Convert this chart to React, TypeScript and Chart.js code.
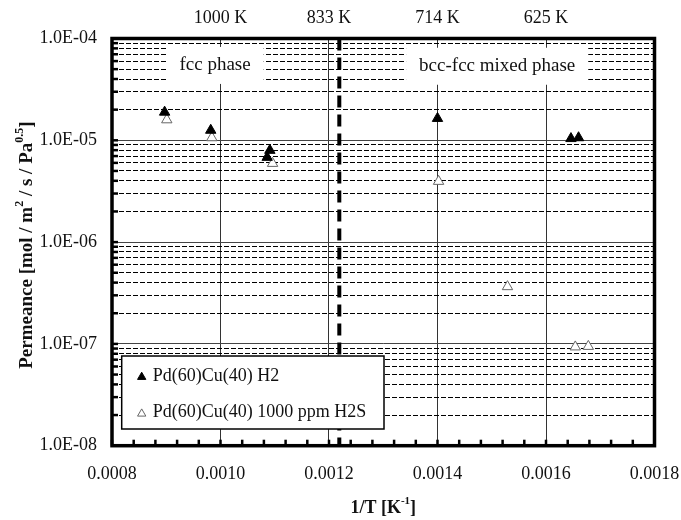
import React, { useEffect, useRef } from 'react';
import { Chart, registerables } from 'chart.js';

Chart.register(...registerables);

// ---- data ----
const h2X = [0.000897, 0.000982, 0.001091, 0.001086, 0.0014, 0.001646, 0.00166];
const h2Y = [1.89e-5, 1.255e-5, 7.97e-6, 6.8e-6, 1.64e-5, 1.04e-5, 1.06e-5];
const h2sX = [0.000901, 0.000984, 0.001096, 0.001402, 0.001529, 0.001654, 0.001678];
const h2sY = [1.59e-5, 1.06e-5, 5.93e-6, 3.95e-6, 3.65e-7, 9.34e-8, 9.45e-8];
const seriesLabels = ['Pd(60)Cu(40) H2', 'Pd(60)Cu(40) 1000 ppm H2S'];
const phaseBoundaryX = 0.001219;
const phaseLabels = ['fcc phase', 'bcc-fcc mixed phase'];
const phaseLabelX = [0.00099, 0.00151];
const phaseLabelY = [5.5e-5, 5.4e-5];

const xMin = 0.0008;
const xMax = 0.0018;
const xTickLabels = ['0.0008', '0.0010', '0.0012', '0.0014', '0.0016', '0.0018'];
const topTickLabels = ['', '1000 K', '833 K', '714 K', '625 K', ''];
const yMin = 1e-8;
const yMax = 1e-4;
const yTickLabels = ['1.0E-08', '1.0E-07', '1.0E-06', '1.0E-05', '1.0E-04'];

// tick value lists
const xAllTicks: number[] = [];
for (let i = 0; i <= 25; i++) xAllTicks.push(Number((xMin + i * 0.00004).toFixed(6)));
const xMajorTicks: number[] = [];
for (let i = 0; i <= 5; i++) xMajorTicks.push(Number((xMin + i * 0.0002).toFixed(6)));
const yAllTicks: number[] = [];
for (let e = -8; e <= -5; e++) for (let s = 1; s <= 9; s++) yAllTicks.push(Number((s * Math.pow(10, e)).toPrecision(3)));
yAllTicks.push(yMax);

const FONT = "'Liberation Serif', 'Times New Roman', serif";

type Part = { t: string; sup?: boolean };

function drawRich(ctx: CanvasRenderingContext2D, parts: Part[], cx: number, cy: number, size: number, bold: boolean) {
  const w = bold ? 'bold ' : '';
  const supSize = Math.round(size * 0.62);
  let total = 0;
  const widths = parts.map((p) => {
    ctx.font = `${w}${p.sup ? supSize : size}px ${FONT}`;
    const m = ctx.measureText(p.t).width;
    total += m;
    return m;
  });
  let x = cx - total / 2;
  ctx.textBaseline = 'middle';
  ctx.textAlign = 'left';
  parts.forEach((p, i) => {
    ctx.font = `${w}${p.sup ? supSize : size}px ${FONT}`;
    ctx.fillText(p.t, x, p.sup ? cy - size * 0.38 : cy);
    x += widths[i];
  });
}

function tri(ctx: CanvasRenderingContext2D, x: number, y: number, r: number) {
  ctx.beginPath();
  let rad = 0;
  ctx.moveTo(x + Math.sin(rad) * r, y - Math.cos(rad) * r);
  rad += (2 * Math.PI) / 3;
  ctx.lineTo(x + Math.sin(rad) * r, y - Math.cos(rad) * r);
  rad += (2 * Math.PI) / 3;
  ctx.lineTo(x + Math.sin(rad) * r, y - Math.cos(rad) * r);
  ctx.closePath();
}

const decorPlugin = {
  id: 'decor',
  beforeDatasetsDraw(chart: any) {
    const { ctx, chartArea: ca, scales } = chart;
    const xs = scales.x;
    const ys = scales.y;
    ctx.save();
    // phase label boxes
    ctx.font = `19px ${FONT}`;
    phaseLabels.forEach((t, i) => {
      const cx = xs.getPixelForValue(phaseLabelX[i]);
      const cy = ys.getPixelForValue(phaseLabelY[i]);
      const tw = ctx.measureText(t).width;
      ctx.fillStyle = '#fff';
      ctx.fillRect(cx - tw / 2 - 13, cy - 18, tw + 26, 37);
      ctx.fillStyle = '#111';
      ctx.textAlign = 'center';
      ctx.textBaseline = 'middle';
      ctx.fillText(t, cx, cy);
    });
    // inward ticks
    ctx.strokeStyle = '#000';
    ctx.lineWidth = 2.5;
    ys.ticks.forEach((t: any) => {
      const py = ys.getPixelForValue(t.value);
      ctx.beginPath();
      ctx.moveTo(ca.left, py);
      ctx.lineTo(ca.left + 6, py);
      ctx.stroke();
    });
    xs.ticks.forEach((t: any) => {
      const px = xs.getPixelForValue(t.value);
      ctx.beginPath();
      ctx.moveTo(px, ca.bottom);
      ctx.lineTo(px, ca.bottom - 6);
      ctx.stroke();
    });
    ctx.restore();
  },
  afterDatasetsDraw(chart: any) {
    const { ctx, chartArea: ca } = chart;
    ctx.save();
    // legend
    const lx = ca.left + 9.7;
    const ly = ca.bottom - 89.7;
    const lw = 262.3;
    const lh = 73;
    ctx.fillStyle = '#fff';
    ctx.fillRect(lx, ly, lw, lh);
    ctx.strokeStyle = '#000';
    ctx.lineWidth = 1.5;
    ctx.strokeRect(lx, ly, lw, lh);
    const rows = [ly + 20, ly + 56.7];
    const ds = chart.data.datasets;
    rows.forEach((ry, i) => {
      tri(ctx, lx + 20, ry + 1, 4.8);
      ctx.fillStyle = ds[i].backgroundColor;
      ctx.fill();
      ctx.strokeStyle = ds[i].borderColor;
      ctx.lineWidth = 1;
      ctx.stroke();
      ctx.fillStyle = '#111';
      ctx.font = `18px ${FONT}`;
      ctx.textAlign = 'left';
      ctx.textBaseline = 'middle';
      ctx.fillText(ds[i].label, lx + 31, ry);
    });
    // frame
    ctx.strokeStyle = '#000';
    ctx.lineWidth = 3.5;
    ctx.strokeRect(ca.left, ca.top, ca.right - ca.left, ca.bottom - ca.top);
    // axis titles
    ctx.fillStyle = '#111';
    drawRich(ctx, [{ t: '1/T [K' }, { t: '-1', sup: true }, { t: ']' }], (ca.left + ca.right) / 2, 508, 18, true);
    ctx.translate(27, (ca.top + ca.bottom) / 2 + 3);
    ctx.rotate(-Math.PI / 2);
    drawRich(
      ctx,
      [{ t: 'Permeance [mol / m' }, { t: '2', sup: true }, { t: ' / s / Pa' }, { t: '0.5', sup: true }, { t: ']' }],
      0,
      0,
      19,
      true
    );
    ctx.restore();
  },
};

const tickFont = { family: FONT, size: 18 };

const noPad = (s: any) => {
  s.paddingLeft = 0;
  s.paddingRight = 0;
  s.paddingTop = 0;
  s.paddingBottom = 0;
};

export default function App() {
  const ref = useRef<HTMLCanvasElement>(null);
  useEffect(() => {
    const canvas = ref.current!;
    const chart = new Chart(canvas, {
      type: 'scatter',
      data: {
        datasets: [
          {
            label: seriesLabels[0],
            data: h2X.map((x, i) => ({ x, y: h2Y[i] })),
            pointStyle: 'triangle',
            pointRadius: 6,
            backgroundColor: '#000',
            borderColor: '#000',
            borderWidth: 1,
          },
          {
            label: seriesLabels[1],
            data: h2sX.map((x, i) => ({ x, y: h2sY[i] })),
            pointStyle: 'triangle',
            pointRadius: 6,
            backgroundColor: '#fff',
            borderColor: '#666',
            borderWidth: 1,
          },
          {
            label: 'phase boundary',
            data: [
              { x: phaseBoundaryX, y: yMax },
              { x: phaseBoundaryX, y: yMin },
            ],
            showLine: true,
            pointRadius: 0,
            borderColor: '#000',
            borderWidth: 4,
            borderDash: [12, 7],
          },
        ],
      } as any,
      options: {
        responsive: false,
        animation: false,
        events: [],
        layout: { padding: { left: 0, right: 26.5, top: 0, bottom: 0 } },
        plugins: { legend: { display: false }, tooltip: { enabled: false } },
        scales: {
          x: {
            type: 'linear',
            position: 'bottom',
            min: xMin,
            max: xMax,
            afterBuildTicks: (s: any) => {
              s.ticks = xAllTicks.map((v) => ({ value: v }));
            },
            afterFit: (s: any) => {
              s.height = 74.3;
              noPad(s);
            },
            ticks: {
              autoSkip: false,
              maxRotation: 0,
              padding: 17.5,
              font: tickFont,
              color: '#111',
              callback: (_v: any, i: number) => (i % 5 === 0 ? xTickLabels[i / 5] : ''),
            },
            grid: {
              drawTicks: false,
              color: '#333',
              lineWidth: (c: any) => (c.index % 5 === 0 && c.index !== 0 && c.index !== 25 ? 1 : 0),
            },
            border: { display: false },
          },
          x2: {
            type: 'linear',
            position: 'top',
            min: xMin,
            max: xMax,
            afterBuildTicks: (s: any) => {
              s.ticks = xMajorTicks.map((v) => ({ value: v }));
            },
            afterFit: (s: any) => {
              s.height = 38.5;
              noPad(s);
            },
            ticks: {
              autoSkip: false,
              maxRotation: 0,
              padding: 9.2,
              font: tickFont,
              color: '#111',
              callback: (_v: any, i: number) => topTickLabels[i],
            },
            grid: { display: false, drawTicks: false },
            border: { display: false },
          },
          y: {
            type: 'logarithmic',
            position: 'left',
            min: yMin,
            max: yMax,
            afterBuildTicks: (s: any) => {
              s.ticks = yAllTicks.map((v) => ({ value: v }));
            },
            afterFit: (s: any) => {
              s.width = 112;
              noPad(s);
            },
            ticks: {
              autoSkip: false,
              padding: 15,
              font: tickFont,
              color: '#111',
              callback: (_v: any, i: number) => (i % 9 === 0 ? yTickLabels[i / 9] : ''),
            },
            grid: {
              drawTicks: false,
              color: '#444',
              lineWidth: (c: any) => (c.index % 9 === 0 ? 1 : 0),
            },
            border: { display: false },
          },
          y2: {
            type: 'logarithmic',
            position: 'left',
            min: yMin,
            max: yMax,
            afterBuildTicks: (s: any) => {
              s.ticks = yAllTicks.map((v) => ({ value: v }));
            },
            afterFit: (s: any) => {
              s.width = 0;
              noPad(s);
            },
            ticks: { display: false },
            grid: {
              drawTicks: false,
              color: '#000',
              lineWidth: (c: any) => (c.index % 9 === 0 ? 0 : 1),
            },
            border: { display: false, dash: [5, 2] },
          },
        },
      } as any,
      plugins: [decorPlugin],
    });
    return () => chart.destroy();
  }, []);
  return (
    <div style={{ position: 'absolute', left: 0, top: 0, width: 681, height: 520, background: '#fff' }}>
      <canvas ref={ref} width={681} height={520} style={{ display: 'block', width: 681, height: 520 }} />
    </div>
  );
}
